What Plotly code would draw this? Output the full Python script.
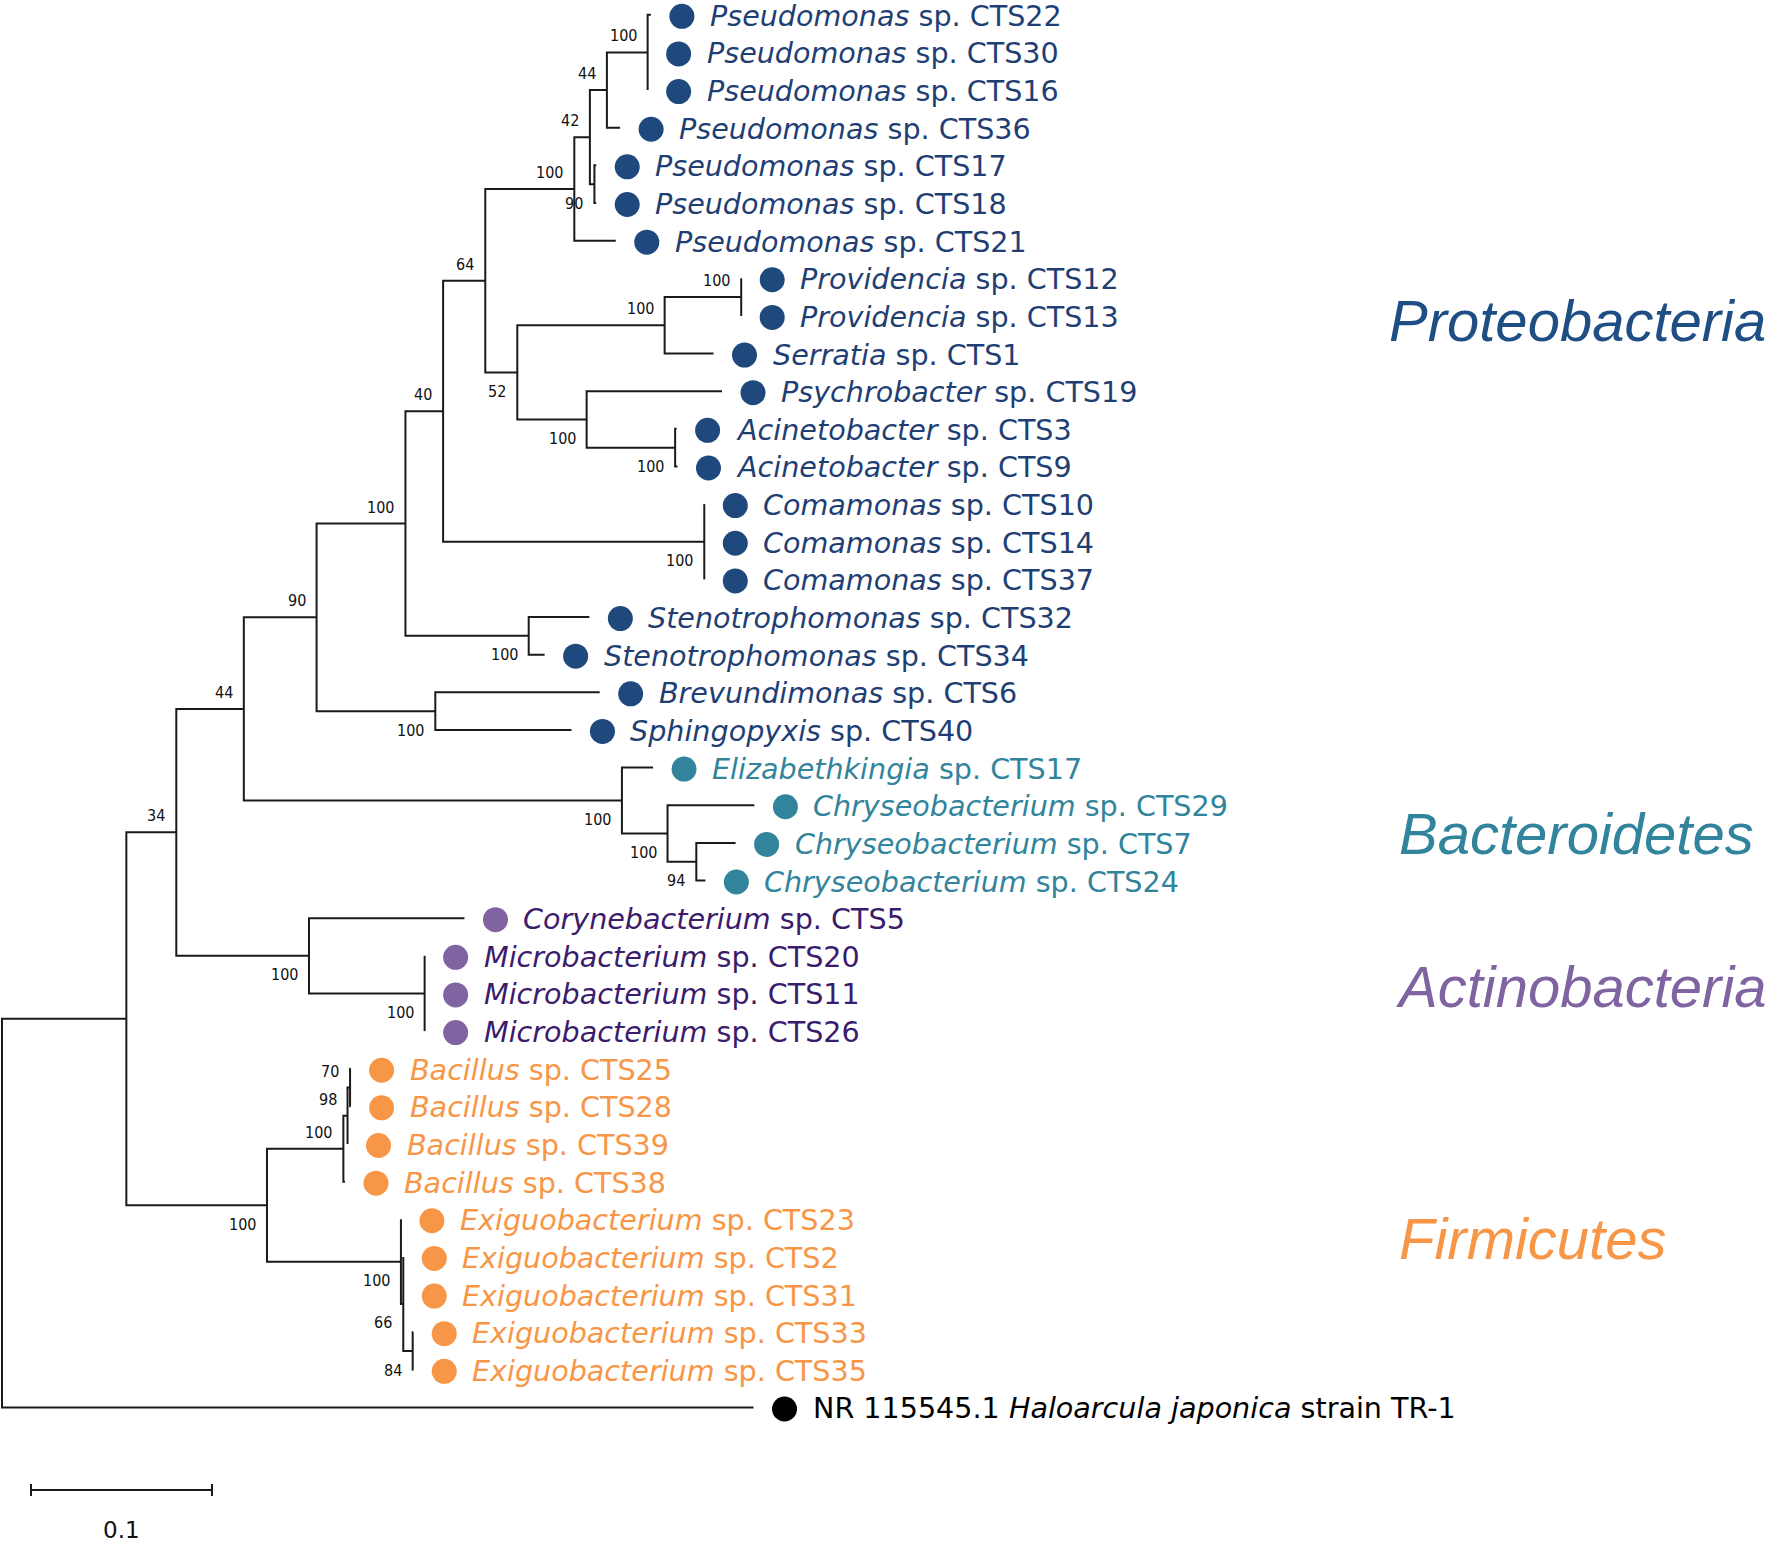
import plotly.graph_objects as go

# ---------------- DATA ----------------
# Tree topology with branch lengths (substitutions/site) and bootstrap support.
# Leaves are referenced as tN -> index N in the leaf arrays below (top-to-bottom order).
NEWICK = (
    "((((((((((((t0:0.0018,t1:0,t2:0)100:0.0225,t3:0.0073)44:0.0094,"
    "(t4:0.001,t5:0.001)90:0.0025)42:0.0086,t6:0.0229)100:0.0492,"
    "(((t7:0,t8:0)100:0.0423,t9:0.0270)100:0.0814,"
    "(t10:0.0748,(t11:0.0008,t12:0.0013)100:0.0489)100:0.0383)52:0.0177)64:0.0233,"
    "(t13:0,t14:0,t15:0)100:0.1443)40:0.0208,"
    "(t16:0.0335,t17:0.0088)100:0.0681)100:0.0491,"
    "(t18:0.0908,t19:0.0752)100:0.0656)90:0.0402,"
    "(t20:0.0172,(t21:0.0480,(t22:0.0217,t23:0.0050)94:0.0159)100:0.0252)100:0.2089)44:0.0373,"
    "(t24:0.0859,(t25:0,t26:0,t27:0)100:0.0639)100:0.0733)34:0.0276,"
    "((((t28:0.0003,t29:0.0003)70:0.0014,t30:0)98:0.0023,t31:0.0009)100:0.0422,"
    "(t32:0,(t33:0,t34:0,(t35:0.0003,t36:0.0003)84:0.0052)66:0.0013)100:0.0740)100:0.0777):0.0687,"
    "t37:0.4152);"
)

LEAF_PREFIX = [""] * 37 + ["NR 115545.1 "]
LEAF_GENUS = [
    "Pseudomonas", "Pseudomonas", "Pseudomonas", "Pseudomonas", "Pseudomonas", "Pseudomonas", "Pseudomonas",
    "Providencia", "Providencia", "Serratia", "Psychrobacter", "Acinetobacter", "Acinetobacter",
    "Comamonas", "Comamonas", "Comamonas", "Stenotrophomonas", "Stenotrophomonas",
    "Brevundimonas", "Sphingopyxis",
    "Elizabethkingia", "Chryseobacterium", "Chryseobacterium", "Chryseobacterium",
    "Corynebacterium", "Microbacterium", "Microbacterium", "Microbacterium",
    "Bacillus", "Bacillus", "Bacillus", "Bacillus",
    "Exiguobacterium", "Exiguobacterium", "Exiguobacterium", "Exiguobacterium", "Exiguobacterium",
    "Haloarcula japonica",
]
LEAF_STRAIN = [
    "sp. CTS22", "sp. CTS30", "sp. CTS16", "sp. CTS36", "sp. CTS17", "sp. CTS18", "sp. CTS21",
    "sp. CTS12", "sp. CTS13", "sp. CTS1", "sp. CTS19", "sp. CTS3", "sp. CTS9",
    "sp. CTS10", "sp. CTS14", "sp. CTS37", "sp. CTS32", "sp. CTS34",
    "sp. CTS6", "sp. CTS40",
    "sp. CTS17", "sp. CTS29", "sp. CTS7", "sp. CTS24",
    "sp. CTS5", "sp. CTS20", "sp. CTS11", "sp. CTS26",
    "sp. CTS25", "sp. CTS28", "sp. CTS39", "sp. CTS38",
    "sp. CTS23", "sp. CTS2", "sp. CTS31", "sp. CTS33", "sp. CTS35",
    "strain TR-1",
]
LEAF_PHYLUM = (["Proteobacteria"] * 20 + ["Bacteroidetes"] * 4 + ["Actinobacteria"] * 4
               + ["Firmicutes"] * 9 + ["Outgroup"])
PHYLA = ["Proteobacteria", "Bacteroidetes", "Actinobacteria", "Firmicutes"]
SCALE_BAR = 0.1

# ---------------- STYLE ----------------
W, H = 1771, 1544
PX_PER_UNIT = 1810.0
ROOT_PX = 2.0
ROW0_PX = 14.8
ROW_PX = 37.64

MARKER_COLOR = {"Proteobacteria": "#1F497D", "Bacteroidetes": "#31849B",
                "Actinobacteria": "#8064A2", "Firmicutes": "#F79646", "Outgroup": "#000000"}
TEXT_COLOR = {"Proteobacteria": "#1F3F74", "Bacteroidetes": "#31849B",
              "Actinobacteria": "#3B1C6C", "Firmicutes": "#F79646", "Outgroup": "#000000"}
PHYLUM_LABEL_COLOR = {"Proteobacteria": "#1F4E85", "Bacteroidetes": "#31849B",
                      "Actinobacteria": "#8064A2", "Firmicutes": "#F79646"}
PHYLUM_LABEL_POS = {"Proteobacteria": (1387, 321), "Bacteroidetes": (1397, 833),
                    "Actinobacteria": (1394, 986), "Firmicutes": (1397, 1238)}

LINE_COLOR = "#1a1a1a"
LEAF_FONT = "DejaVu Sans, Verdana, sans-serif"
LEAF_SIZE = 28.6
BOOT_FONT = "DejaVu Sans Condensed, Liberation Sans Narrow, DejaVu Sans, sans-serif"


def dxu(px):
    return px / PX_PER_UNIT


def dyu(px):
    return px / ROW_PX


# ---------------- PARSE ----------------
def parse_newick(s):
    pos = 0

    def node():
        nonlocal pos
        n = {"children": [], "label": "", "length": 0.0}
        if s[pos] == "(":
            pos += 1
            while True:
                n["children"].append(node())
                if s[pos] == ",":
                    pos += 1
                    continue
                if s[pos] == ")":
                    pos += 1
                    break
        start = pos
        while pos < len(s) and s[pos] not in ":,();":
            pos += 1
        n["label"] = s[start:pos]
        if pos < len(s) and s[pos] == ":":
            pos += 1
            start = pos
            while s[pos] not in ",();":
                pos += 1
            n["length"] = float(s[start:pos])
        return n

    return node()


root = parse_newick(NEWICK)


def layout(n, x0, is_root=False):
    n["x"] = x0 if is_root else x0 + n["length"]
    if not n["children"]:
        n["leaf"] = int(n["label"][1:])
        n["y"] = float(n["leaf"])
    else:
        for c in n["children"]:
            layout(c, n["x"])
        n["y"] = (n["children"][0]["y"] + n["children"][-1]["y"]) / 2.0


layout(root, 0.0, True)

lx, ly = [], []
leaves = []
boots = []


def walk(n, first_child):
    if not n["children"]:
        leaves.append(n)
        return
    ch = n["children"]
    a, b = ch[0], ch[-1]
    lx.extend([a["x"], n["x"], n["x"], b["x"], None])
    ly.extend([a["y"], a["y"], b["y"], b["y"], None])
    for c in ch[1:-1]:
        lx.extend([n["x"], c["x"], None])
        ly.extend([c["y"], c["y"], None])
    if n["label"]:
        boots.append((n, first_child))
    for i, c in enumerate(ch):
        walk(c, i == 0)


walk(root, True)

fig = go.Figure()
fig.add_trace(go.Scatter(x=lx, y=ly, mode="lines",
                         line=dict(color=LINE_COLOR, width=2), hoverinfo="skip",
                         showlegend=False))

leaves.sort(key=lambda n: n["leaf"])
mx = [n["x"] + dxu(31) for n in leaves]
my = [n["y"] + dyu(1.5) for n in leaves]
mc = [MARKER_COLOR[LEAF_PHYLUM[n["leaf"]]] for n in leaves]
fig.add_trace(go.Scatter(x=mx, y=my, mode="markers",
                         marker=dict(size=25, color=mc, line=dict(width=0)),
                         hoverinfo="skip", showlegend=False))

annotations = []
for n in leaves:
    i = n["leaf"]
    txt = f"{LEAF_PREFIX[i]}<i>{LEAF_GENUS[i]}</i> {LEAF_STRAIN[i]}"
    annotations.append(dict(x=n["x"] + dxu(57), y=n["y"] + dyu(1), xref="x", yref="y",
                            text=txt, showarrow=False, xanchor="left", yanchor="middle",
                            font=dict(family=LEAF_FONT, size=LEAF_SIZE,
                                      color=TEXT_COLOR[LEAF_PHYLUM[i]])))

for n, above in boots:
    yy = n["y"] - dyu(16.5) if above else n["y"] + dyu(19)
    annotations.append(dict(x=n["x"] - dxu(9), y=yy, xref="x", yref="y",
                            text=n["label"], showarrow=False, xanchor="right",
                            yanchor="middle",
                            font=dict(family=BOOT_FONT, size=16, color="#111111")))

for p in PHYLA:
    px, py = PHYLUM_LABEL_POS[p]
    annotations.append(dict(x=px / W, y=1 - py / H, xref="paper", yref="paper",
                            text=f"<i>{p}</i>", showarrow=False, xanchor="left",
                            yanchor="middle",
                            font=dict(family="Liberation Sans, Arial, sans-serif", size=58,
                                      color=PHYLUM_LABEL_COLOR[p])))

# scale bar
sb_x0 = dxu(31 - ROOT_PX)
sb_y = (1490 - ROW0_PX) / ROW_PX
tick = dyu(6)
fig.add_trace(go.Scatter(
    x=[sb_x0, sb_x0 + SCALE_BAR, None, sb_x0, sb_x0, None, sb_x0 + SCALE_BAR, sb_x0 + SCALE_BAR],
    y=[sb_y, sb_y, None, sb_y - tick, sb_y + tick, None, sb_y - tick, sb_y + tick],
    mode="lines", line=dict(color=LINE_COLOR, width=2), hoverinfo="skip", showlegend=False))
annotations.append(dict(x=sb_x0 + SCALE_BAR / 2, y=(1530 - ROW0_PX) / ROW_PX, xref="x", yref="y",
                        text=f"{SCALE_BAR}", showarrow=False, xanchor="center", yanchor="middle",
                        font=dict(family=LEAF_FONT, size=23, color="#111111")))

fig.update_layout(
    width=W, height=H, autosize=False,
    margin=dict(l=0, r=0, t=0, b=0),
    paper_bgcolor="white", plot_bgcolor="white",
    annotations=annotations,
    xaxis=dict(range=[-ROOT_PX / PX_PER_UNIT, (W - ROOT_PX) / PX_PER_UNIT],
               visible=False, fixedrange=True),
    yaxis=dict(range=[(H - ROW0_PX) / ROW_PX, -ROW0_PX / ROW_PX],
               visible=False, fixedrange=True),
)

fig.write_html("out.html",
               config={"displayModeBar": False, "staticPlot": True},
               post_script="document.body.style.margin='0';document.body.style.padding='0';")
